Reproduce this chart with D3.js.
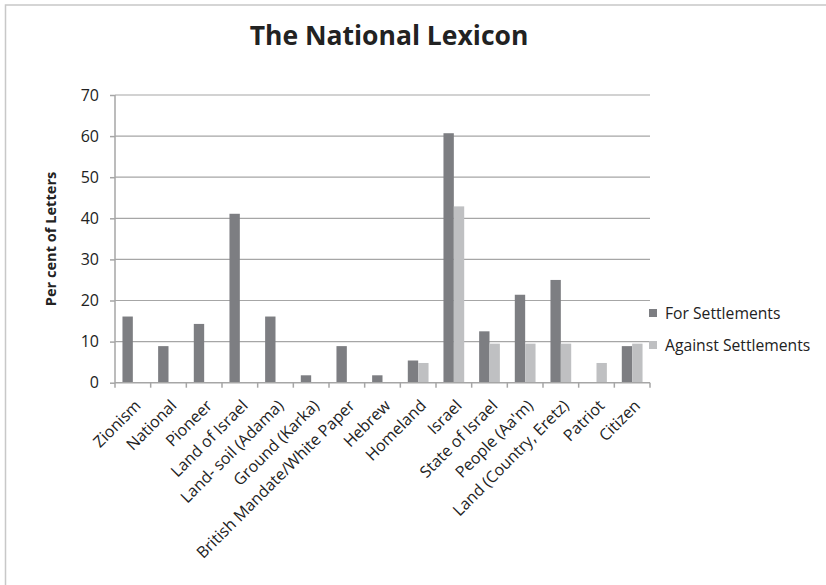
<!DOCTYPE html>
<html>
<head>
<meta charset="utf-8">
<script src="https://cdn.jsdelivr.net/npm/d3@7"></script>
<style>
  html, body { margin: 0; padding: 0; background: #fff; }
  svg { display: block; font-family: "Open Sans", "DejaVu Sans", sans-serif; }
</style>
</head>
<body>
<svg id="chart" width="826" height="585"></svg>
<script>
// Terms used in settlement-related letters
const categories = [
  "Zionism", "National", "Pioneer", "Land of Israel", "Land- soil (Adama)",
  "Ground (Karka)", "British Mandate/White Paper", "Hebrew", "Homeland",
  "Israel", "State of Israel", "People (Aa'm)", "Land (Country, Eretz)",
  "Patriot", "Citizen"
];
const seriesNames = ["For Settlements", "Against Settlements"];
const forSettlements     = [16.1, 8.9, 14.3, 41.1, 16.1, 1.8, 8.9, 1.8, 5.4, 60.7, 12.5, 21.4, 25.0, 0, 8.9];
const againstSettlements = [0, 0, 0, 0, 0, 0, 0, 0, 4.8, 42.9, 9.5, 9.5, 9.5, 4.8, 9.5];
const yTicks = [0, 10, 20, 30, 40, 50, 60, 70];
const colors = ["#7d7e82", "#bfc0c2"];

const svg = d3.select("#chart");
const plot = { left: 115, right: 650, top: 95, bottom: 382.7 };

// outer chart frame
svg.append("rect")
  .attr("x", 5.5).attr("y", 5).attr("width", 830).attr("height", 600)
  .attr("fill", "#fff").attr("stroke", "#c8c8c8").attr("stroke-width", 1.5);

const x = d3.scaleBand().domain(categories).range([plot.left, plot.right]).padding(0);
const xInner = d3.scaleBand().domain(seriesNames)
  .range([0, x.bandwidth()]).paddingInner(0).paddingOuter(0.72);
const y = d3.scaleLinear().domain([0, 70]).range([plot.bottom, plot.top]);

// gridlines
svg.append("g").selectAll("line").data(yTicks.filter(d => d > 0)).join("line")
  .attr("x1", plot.left).attr("x2", plot.right)
  .attr("y1", d => y(d)).attr("y2", d => y(d))
  .attr("stroke", "#a6a6a6").attr("stroke-width", 1.2);

// bars
const series = [forSettlements, againstSettlements];
const groups = svg.append("g").selectAll("g").data(categories).join("g")
  .attr("transform", d => `translate(${x(d)},0)`);
groups.selectAll("rect")
  .data((c, i) => seriesNames.map((s, k) => ({ s, v: series[k][i], k })))
  .join("rect")
  .attr("x", d => xInner(d.s))
  .attr("width", xInner.bandwidth())
  .attr("y", d => y(d.v))
  .attr("height", d => y(0) - y(d.v))
  .attr("fill", d => colors[d.k]);

// y axis
const yAxis = d3.axisLeft(y).tickValues(yTicks).tickSize(5).tickPadding(11);
const gy = svg.append("g").attr("transform", `translate(${plot.left},0)`).call(yAxis);
gy.select(".domain").attr("stroke", "#a6a6a6").attr("stroke-width", 1.5)
  .attr("d", `M0,${plot.top}V${plot.bottom + 5}`);
gy.selectAll(".tick line").attr("stroke", "#a6a6a6").attr("stroke-width", 1.5);
gy.selectAll(".tick text").attr("font-size", 16).attr("fill", "#222")
  .attr("font-family", "'Open Sans', sans-serif");

// x axis: ticks at category boundaries
const gx = svg.append("g");
gx.append("line")
  .attr("x1", plot.left).attr("x2", plot.right)
  .attr("y1", plot.bottom).attr("y2", plot.bottom)
  .attr("stroke", "#a6a6a6").attr("stroke-width", 1.5);
gx.selectAll("line.tk").data(categories).join("line").attr("class", "tk")
  .attr("x1", d => x(d) + x.bandwidth()).attr("x2", d => x(d) + x.bandwidth())
  .attr("y1", plot.bottom).attr("y2", plot.bottom + 5)
  .attr("stroke", "#a6a6a6").attr("stroke-width", 1.5);
gx.selectAll("text").data(categories).join("text")
  .attr("transform", d => `translate(${x(d) + x.bandwidth() / 2 + 9},${plot.bottom + 24}) rotate(-45)`)
  .attr("text-anchor", "end")
  .attr("font-size", 16).attr("fill", "#222")
  .text(d => d);

// title
svg.append("text")
  .attr("x", 389).attr("y", 45)
  .attr("text-anchor", "middle")
  .attr("font-size", 26.5).attr("font-weight", "bold").attr("fill", "#222")
  .text("The National Lexicon");

// y axis title
svg.append("text")
  .attr("transform", "translate(56,239) rotate(-90)")
  .attr("text-anchor", "middle")
  .attr("font-size", 14.6).attr("font-weight", "bold").attr("fill", "#222")
  .text("Per cent of Letters");

// legend
const legend = svg.append("g").selectAll("g").data(seriesNames).join("g")
  .attr("transform", (d, i) => `translate(649,${313 + i * 32})`);
legend.append("rect").attr("x", 0).attr("y", -4).attr("width", 8).attr("height", 8)
  .attr("fill", (d, i) => colors[i]);
legend.append("text").attr("x", 16).attr("dy", "0.35em")
  .attr("font-size", 15.7).attr("fill", "#222")
  .text(d => d);
</script>
</body>
</html>
